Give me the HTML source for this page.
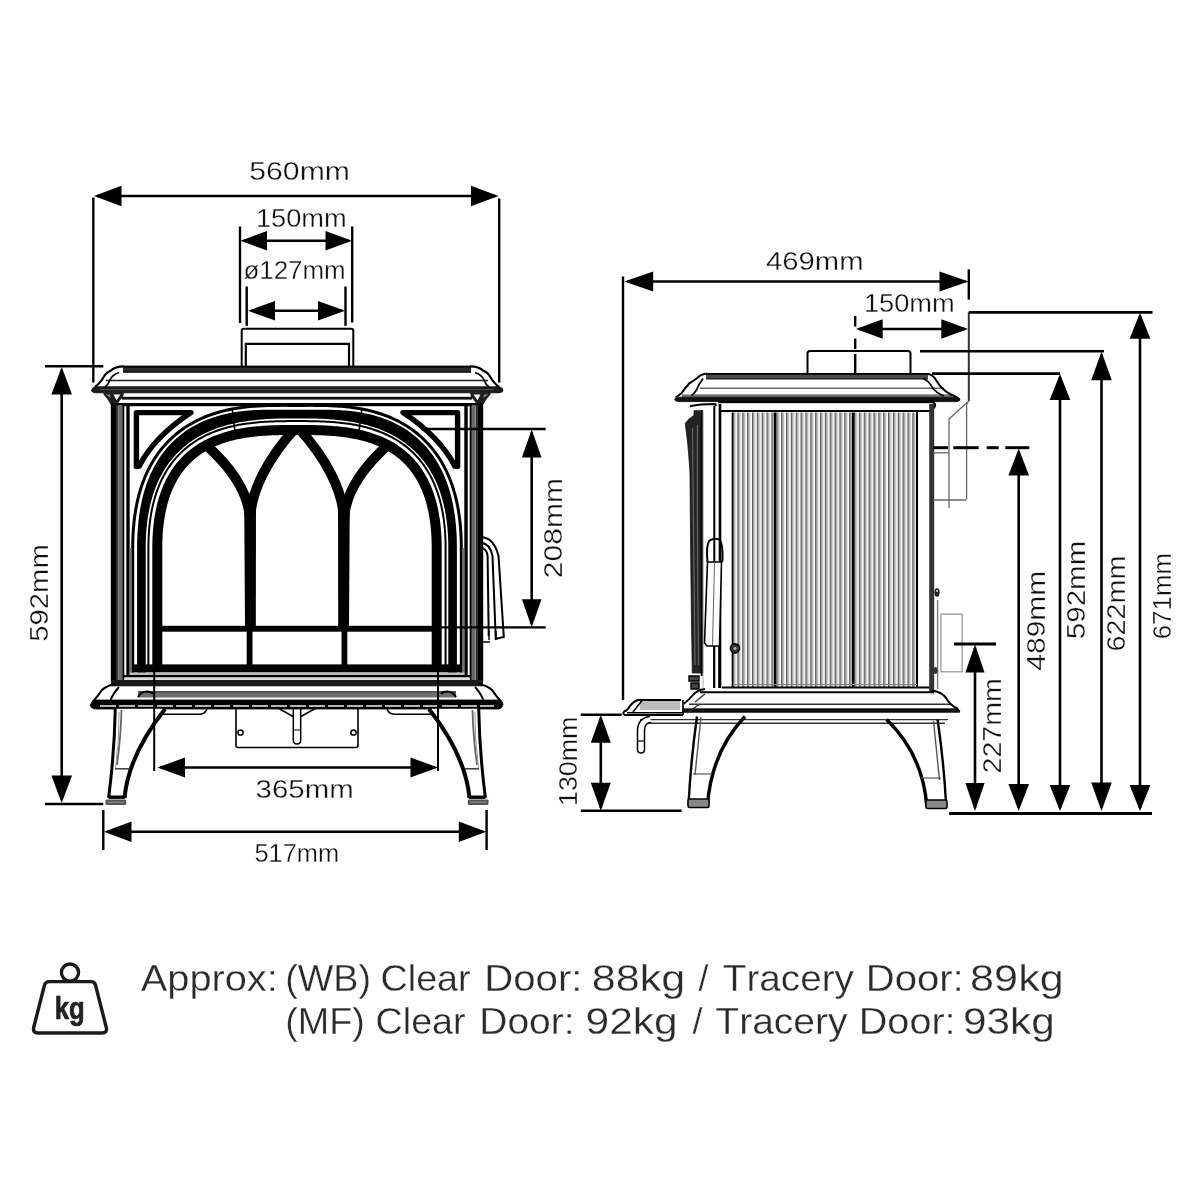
<!DOCTYPE html>
<html><head><meta charset="utf-8"><title>Stove dimensions</title>
<style>
html,body{margin:0;padding:0;background:#fff;}
body{width:1200px;height:1200px;overflow:hidden;}
svg{display:block;will-change:transform;}
svg text{font-family:"Liberation Sans", sans-serif;font-kerning:none;font-variant-ligatures:none;stroke:#fff;stroke-width:0.3px;}
</style></head>
<body>
<svg width="1200" height="1200" viewBox="0 0 1200 1200">
<rect width="1200" height="1200" fill="#fff"/>
<path d="M241.7,366 L241.7,331 Q241.7,328.8 244,328.8 L351,328.8 Q353.3,328.8 353.3,331 L353.3,366" stroke="#000" stroke-width="2" fill="none" />
<path d="M245.8,366 L245.8,343.8 L349,343.8 L349,366" stroke="#000" stroke-width="2.2" fill="none" />
<rect x="123" y="365.8" width="348" height="6.9" fill="#2a2a2a" stroke="none" stroke-width="0" />
<line x1="123" y1="366.6" x2="471" y2="366.6" stroke="#000" stroke-width="1.6" />
<line x1="123" y1="371.8" x2="471" y2="371.8" stroke="#111" stroke-width="1.2" />
<line x1="106" y1="380.6" x2="488" y2="380.6" stroke="#222" stroke-width="1.5" />
<path d="M95,386.8 L499,386.8 Q503.5,388 503,390.8 Q502,392.8 498,392.8 L96,392.8 Q91.5,392.5 91.5,390.5 Q92,387.5 95,386.8 Z" stroke="#000" stroke-width="0.8" fill="#1c1c1c" />
<line x1="100" y1="389.6" x2="494" y2="389.6" stroke="#555" stroke-width="0.9" />
<path d="M124,366.3 Q115,366.3 111,370.5 Q106,372.5 104,376.5 Q100,383.5 95,386.8" stroke="#000" stroke-width="2.2" fill="none" />
<path d="M119,372.5 Q112,375 110,380 Q108,385 105,387" stroke="#000" stroke-width="1.8" fill="none" />
<path d="M103.5,392.8 L124,392.8 L123,397 Q119,401 117,405 L111,405 Q108,399 103.5,394.5 Z" fill="#1e1e1e"/>
<path d="M113.5,394.6 L120.5,394.6 L116.5,400.2 Z" fill="#fff"/>
<path d="M106,394.6 L110,394.6 L110.5,398 Z" fill="#888"/>
<path d="M470,366.3 Q479,366.3 483,370.5 Q488,372.5 490,376.5 Q494,383.5 499,386.8" stroke="#000" stroke-width="2.2" fill="none" />
<path d="M475,372.5 Q482,375 484,380 Q486,385 489,387" stroke="#000" stroke-width="1.8" fill="none" />
<path d="M490.5,392.8 L470,392.8 L471,397 Q475,401 477,405 L483,405 Q486,399 490.5,394.5 Z" fill="#1e1e1e"/>
<path d="M480.5,394.6 L473.5,394.6 L477.5,400.2 Z" fill="#fff"/>
<path d="M488,394.6 L484,394.6 L483.5,398 Z" fill="#888"/>
<rect x="122" y="396.8" width="350" height="2.8" fill="#111" stroke="none" stroke-width="0" />
<rect x="111" y="403" width="372" height="3.2" fill="#000" stroke="none" stroke-width="0" />
<rect x="110.8" y="404" width="5.2" height="278" fill="#000" stroke="none" stroke-width="0" />
<rect x="116" y="405" width="2.3" height="276" fill="#333" stroke="none" stroke-width="0" />
<rect x="118.3" y="405" width="4" height="276" fill="#6a6a6a" stroke="none" stroke-width="0" />
<rect x="122.3" y="405" width="2" height="276" fill="#000" stroke="none" stroke-width="0" />
<rect x="126.3" y="405" width="3.4" height="271" fill="#000" stroke="none" stroke-width="0" />
<rect x="478" y="404" width="5.2" height="278" fill="#000" stroke="none" stroke-width="0" />
<rect x="475.7" y="405" width="2.3" height="276" fill="#333" stroke="none" stroke-width="0" />
<rect x="471.7" y="405" width="4" height="276" fill="#6a6a6a" stroke="none" stroke-width="0" />
<rect x="469.7" y="405" width="2" height="276" fill="#000" stroke="none" stroke-width="0" />
<rect x="464.3" y="405" width="3.4" height="271" fill="#000" stroke="none" stroke-width="0" />
<path d="M136.4,466.6 L136.4,412.6 L191,412.6 Q154,437 139.2,466.2 Z" stroke="#000" stroke-width="5.4" fill="none" stroke-linejoin="round"/>
<path d="M457.6,466.6 L457.6,412.6 L403,412.6 Q440,437 454.8,466.2 Z" stroke="#000" stroke-width="5.4" fill="none" stroke-linejoin="round"/>
<path d="M132.7,674 L132.7,547.76 L132.73,543.75 L132.83,539.57 L132.99,535.46 L133.22,531.42 L133.51,527.44 L133.87,523.53 L134.29,519.68 L134.78,515.9 L135.33,512.17 L135.95,508.51 L136.63,504.91 L137.38,501.36 L138.19,497.88 L139.08,494.46 L140.03,491.09 L141.05,487.78 L142.13,484.53 L143.29,481.34 L144.51,478.22 L145.8,475.15 L147.16,472.14 L148.58,469.19 L150.08,466.31 L151.63,463.49 L153.26,460.74 L154.95,458.05 L156.7,455.44 L158.51,452.89 L160.38,450.41 L162.3,448.01 L164.29,445.67 L166.32,443.42 L168.41,441.23 L170.54,439.13 L172.71,437.1 L174.93,435.14 L177.18,433.27 L179.47,431.47 L181.79,429.74 L184.14,428.09 L186.52,426.52 L188.92,425.02 L191.34,423.59 L193.78,422.23 L196.23,420.95 L198.69,419.73 L201.17,418.58 L203.65,417.49 L206.14,416.47 L208.64,415.51 L211.13,414.61 L213.63,413.76 L216.12,412.97 L218.62,412.23 L221.11,411.55 L223.59,410.91 L226.07,410.32 L228.54,409.78 L231,409.27 L233.46,408.81 L235.9,408.39 L238.33,408 L240.75,407.65 L243.16,407.34 L245.55,407.05 L247.93,406.79 L250.3,406.57 L252.65,406.36 L254.98,406.18 L257.29,406.03 L259.59,405.89 L261.87,405.78 L264.13,405.68 L266.37,405.6 L268.59,405.54 L270.79,405.48 L272.96,405.44 L275.11,405.41 L277.24,405.39 L279.35,405.38 L281.42,405.37 L283.48,405.37 L285.5,405.37 L287.49,405.37 L289.46,405.38 L291.39,405.39 L293.29,405.39 L295.16,405.4 L297,405.4 L298.84,405.4 L300.71,405.39 L302.61,405.39 L304.54,405.38 L306.51,405.37 L308.5,405.37 L310.52,405.37 L312.58,405.37 L314.65,405.38 L316.76,405.39 L318.89,405.41 L321.04,405.44 L323.21,405.48 L325.41,405.54 L327.63,405.6 L329.87,405.68 L332.13,405.78 L334.41,405.89 L336.71,406.03 L339.02,406.18 L341.35,406.36 L343.7,406.57 L346.07,406.79 L348.45,407.05 L350.84,407.34 L353.25,407.65 L355.67,408 L358.1,408.39 L360.54,408.81 L363,409.27 L365.46,409.78 L367.93,410.32 L370.41,410.91 L372.89,411.55 L375.38,412.23 L377.88,412.97 L380.37,413.76 L382.87,414.61 L385.36,415.51 L387.86,416.47 L390.35,417.49 L392.83,418.58 L395.31,419.73 L397.77,420.95 L400.22,422.23 L402.66,423.59 L405.08,425.02 L407.48,426.52 L409.86,428.09 L412.21,429.74 L414.53,431.47 L416.82,433.27 L419.07,435.14 L421.29,437.1 L423.46,439.13 L425.59,441.23 L427.68,443.42 L429.71,445.67 L431.7,448.01 L433.62,450.41 L435.49,452.89 L437.3,455.44 L439.05,458.05 L440.74,460.74 L442.37,463.49 L443.92,466.31 L445.42,469.19 L446.84,472.14 L448.2,475.15 L449.49,478.22 L450.71,481.34 L451.87,484.53 L452.95,487.78 L453.97,491.09 L454.92,494.46 L455.81,497.88 L456.62,501.36 L457.37,504.91 L458.05,508.51 L458.67,512.17 L459.22,515.9 L459.71,519.68 L460.13,523.53 L460.49,527.44 L460.78,531.42 L461.01,535.46 L461.17,539.57 L461.27,543.75 L461.3,547.76 L461.3,674" stroke="#000" stroke-width="3" fill="none" />
<rect x="129.7" y="548" width="2" height="128" fill="#777"/>
<rect x="462.3" y="548" width="2" height="128" fill="#777"/>
<path d="M145.7,674 L145.7,547.87 L145.73,543.96 L145.83,540 L146,536.12 L146.23,532.31 L146.52,528.57 L146.88,524.91 L147.31,521.32 L147.79,517.79 L148.34,514.34 L148.95,510.96 L149.63,507.65 L150.36,504.41 L151.16,501.23 L152.02,498.12 L152.94,495.08 L153.91,492.11 L154.95,489.2 L156.04,486.36 L157.19,483.58 L158.4,480.87 L159.66,478.23 L160.98,475.65 L162.36,473.14 L163.78,470.7 L165.26,468.32 L166.79,466 L168.36,463.76 L169.98,461.58 L171.65,459.46 L173.37,457.41 L175.12,455.43 L176.92,453.51 L178.75,451.66 L180.62,449.88 L182.52,448.16 L184.46,446.5 L186.43,444.9 L188.42,443.37 L190.45,441.9 L192.49,440.49 L194.56,439.14 L196.66,437.85 L198.77,436.62 L200.9,435.44 L203.04,434.31 L205.2,433.24 L207.38,432.22 L209.56,431.25 L211.76,430.33 L213.96,429.45 L216.18,428.62 L218.4,427.84 L220.62,427.1 L222.86,426.4 L225.09,425.74 L227.33,425.12 L229.57,424.53 L231.81,423.98 L234.05,423.47 L236.29,422.99 L238.53,422.54 L240.77,422.12 L243,421.74 L245.23,421.38 L247.45,421.04 L249.67,420.74 L251.88,420.46 L254.08,420.2 L256.28,419.97 L258.46,419.75 L260.64,419.56 L262.8,419.39 L264.96,419.23 L267.09,419.09 L269.22,418.97 L271.33,418.86 L273.43,418.77 L275.51,418.69 L277.57,418.62 L279.61,418.57 L281.63,418.52 L283.64,418.49 L285.62,418.46 L287.58,418.44 L289.51,418.42 L291.42,418.41 L293.31,418.4 L295.17,418.4 L297,418.4 L298.83,418.4 L300.69,418.4 L302.58,418.41 L304.49,418.42 L306.42,418.44 L308.38,418.46 L310.36,418.49 L312.37,418.52 L314.39,418.57 L316.43,418.62 L318.49,418.69 L320.57,418.77 L322.67,418.86 L324.78,418.97 L326.91,419.09 L329.04,419.23 L331.2,419.39 L333.36,419.56 L335.54,419.75 L337.72,419.97 L339.92,420.2 L342.12,420.46 L344.33,420.74 L346.55,421.04 L348.77,421.38 L351,421.74 L353.23,422.12 L355.47,422.54 L357.71,422.99 L359.95,423.47 L362.19,423.98 L364.43,424.53 L366.67,425.12 L368.91,425.74 L371.14,426.4 L373.38,427.1 L375.6,427.84 L377.82,428.62 L380.04,429.45 L382.24,430.33 L384.44,431.25 L386.62,432.22 L388.8,433.24 L390.96,434.31 L393.1,435.44 L395.23,436.62 L397.34,437.85 L399.44,439.14 L401.51,440.49 L403.55,441.9 L405.58,443.37 L407.57,444.9 L409.54,446.5 L411.48,448.16 L413.38,449.88 L415.25,451.66 L417.08,453.51 L418.88,455.43 L420.63,457.41 L422.35,459.46 L424.02,461.58 L425.64,463.76 L427.21,466 L428.74,468.32 L430.22,470.7 L431.64,473.14 L433.02,475.65 L434.34,478.23 L435.6,480.87 L436.81,483.58 L437.96,486.36 L439.05,489.2 L440.09,492.11 L441.06,495.08 L441.98,498.12 L442.84,501.23 L443.64,504.41 L444.37,507.65 L445.05,510.96 L445.66,514.34 L446.21,517.79 L446.69,521.32 L447.12,524.91 L447.48,528.57 L447.77,532.31 L448,536.12 L448.17,540 L448.27,543.96 L448.3,547.87 L448.3,674 L456.9,674 L456.9,547.8 L456.87,543.82 L456.78,539.72 L456.63,535.68 L456.41,531.72 L456.14,527.82 L455.81,523.99 L455.41,520.22 L454.96,516.52 L454.44,512.88 L453.86,509.3 L453.22,505.78 L452.52,502.33 L451.75,498.93 L450.93,495.59 L450.04,492.31 L449.08,489.08 L448.06,485.92 L446.98,482.81 L445.83,479.76 L444.62,476.78 L443.34,473.85 L441.99,470.98 L440.59,468.17 L439.11,465.42 L437.58,462.74 L435.98,460.12 L434.32,457.57 L432.6,455.08 L430.82,452.66 L428.98,450.31 L427.09,448.04 L425.14,445.83 L423.15,443.7 L421.11,441.64 L419.02,439.65 L416.89,437.74 L414.72,435.91 L412.51,434.15 L410.27,432.46 L408,430.85 L405.7,429.32 L403.37,427.85 L401.02,426.46 L398.66,425.14 L396.27,423.89 L393.87,422.71 L391.46,421.59 L389.04,420.54 L386.61,419.55 L384.17,418.63 L381.73,417.77 L379.29,416.96 L376.85,416.21 L374.4,415.51 L371.96,414.86 L369.53,414.27 L367.09,413.72 L364.67,413.22 L362.25,412.76 L359.84,412.34 L357.44,411.96 L355.04,411.62 L352.66,411.31 L350.29,411.04 L347.94,410.8 L345.6,410.59 L343.27,410.4 L340.95,410.24 L338.65,410.1 L336.37,409.99 L334.1,409.9 L331.85,409.82 L329.62,409.76 L327.41,409.71 L325.22,409.68 L323.04,409.66 L320.89,409.65 L318.76,409.65 L316.65,409.66 L314.57,409.67 L312.51,409.68 L310.47,409.7 L308.46,409.72 L306.48,409.74 L304.52,409.76 L302.6,409.78 L300.7,409.79 L298.84,409.8 L297,409.8 L295.16,409.8 L293.3,409.79 L291.4,409.78 L289.48,409.76 L287.52,409.74 L285.54,409.72 L283.53,409.7 L281.49,409.68 L279.43,409.67 L277.35,409.66 L275.24,409.65 L273.11,409.65 L270.96,409.66 L268.78,409.68 L266.59,409.71 L264.38,409.76 L262.15,409.82 L259.9,409.9 L257.63,409.99 L255.35,410.1 L253.05,410.24 L250.73,410.4 L248.4,410.59 L246.06,410.8 L243.71,411.04 L241.34,411.31 L238.96,411.62 L236.56,411.96 L234.16,412.34 L231.75,412.76 L229.33,413.22 L226.91,413.72 L224.47,414.27 L222.04,414.86 L219.6,415.51 L217.15,416.21 L214.71,416.96 L212.27,417.77 L209.83,418.63 L207.39,419.55 L204.96,420.54 L202.54,421.59 L200.13,422.71 L197.73,423.89 L195.34,425.14 L192.98,426.46 L190.63,427.85 L188.3,429.32 L186,430.85 L183.73,432.46 L181.49,434.15 L179.28,435.91 L177.11,437.74 L174.98,439.65 L172.89,441.64 L170.85,443.7 L168.86,445.83 L166.91,448.04 L165.02,450.31 L163.18,452.66 L161.4,455.08 L159.68,457.57 L158.02,460.12 L156.42,462.74 L154.89,465.42 L153.41,468.17 L152.01,470.98 L150.66,473.85 L149.38,476.78 L148.17,479.76 L147.02,482.81 L145.94,485.92 L144.92,489.08 L143.96,492.31 L143.07,495.59 L142.25,498.93 L141.48,502.33 L140.78,505.78 L140.14,509.3 L139.56,512.88 L139.04,516.52 L138.59,520.22 L138.19,523.99 L137.86,527.82 L137.59,531.72 L137.37,535.68 L137.22,539.72 L137.13,543.82 L137.1,547.8 L137.1,674 Z" fill="#000"/>
<path d="M148.4,668 L148.4,547.89 L148.43,544.01 L148.53,540.09 L148.69,536.25 L148.91,532.49 L149.2,528.8 L149.55,525.19 L149.96,521.65 L150.43,518.18 L150.96,514.78 L151.55,511.45 L152.2,508.19 L152.91,505.01 L153.68,501.88 L154.51,498.83 L155.39,495.84 L156.34,492.92 L157.33,490.07 L158.39,487.28 L159.5,484.56 L160.67,481.9 L161.89,479.31 L163.16,476.79 L164.49,474.33 L165.86,471.93 L167.29,469.6 L168.77,467.33 L170.29,465.13 L171.86,462.99 L173.47,460.92 L175.13,458.92 L176.83,456.97 L178.57,455.09 L180.35,453.28 L182.17,451.53 L184.02,449.84 L185.9,448.22 L187.82,446.65 L189.76,445.15 L191.73,443.71 L193.73,442.33 L195.75,441 L197.79,439.74 L199.86,438.53 L201.94,437.37 L204.04,436.27 L206.16,435.22 L208.29,434.22 L210.43,433.28 L212.59,432.38 L214.76,431.52 L216.93,430.72 L219.11,429.95 L221.31,429.23 L223.5,428.56 L225.7,427.92 L227.91,427.32 L230.12,426.76 L232.33,426.23 L234.54,425.74 L236.75,425.28 L238.96,424.85 L241.17,424.46 L243.38,424.09 L245.58,423.75 L247.78,423.44 L249.97,423.16 L252.16,422.9 L254.34,422.66 L256.51,422.44 L258.68,422.25 L260.83,422.08 L262.98,421.92 L265.11,421.78 L267.23,421.66 L269.34,421.56 L271.44,421.46 L273.52,421.39 L275.58,421.32 L277.63,421.26 L279.66,421.22 L281.68,421.18 L283.67,421.16 L285.64,421.14 L287.59,421.12 L289.52,421.11 L291.43,421.1 L293.31,421.1 L295.17,421.1 L297,421.1 L298.83,421.1 L300.69,421.1 L302.57,421.1 L304.48,421.11 L306.41,421.12 L308.36,421.14 L310.33,421.16 L312.32,421.18 L314.34,421.22 L316.37,421.26 L318.42,421.32 L320.48,421.39 L322.56,421.46 L324.66,421.56 L326.77,421.66 L328.89,421.78 L331.02,421.92 L333.17,422.08 L335.32,422.25 L337.49,422.44 L339.66,422.66 L341.84,422.9 L344.03,423.16 L346.22,423.44 L348.42,423.75 L350.62,424.09 L352.83,424.46 L355.04,424.85 L357.25,425.28 L359.46,425.74 L361.67,426.23 L363.88,426.76 L366.09,427.32 L368.3,427.92 L370.5,428.56 L372.69,429.23 L374.89,429.95 L377.07,430.72 L379.24,431.52 L381.41,432.38 L383.57,433.28 L385.71,434.22 L387.84,435.22 L389.96,436.27 L392.06,437.37 L394.14,438.53 L396.21,439.74 L398.25,441 L400.27,442.33 L402.27,443.71 L404.24,445.15 L406.18,446.65 L408.1,448.22 L409.98,449.84 L411.83,451.53 L413.65,453.28 L415.43,455.09 L417.17,456.97 L418.87,458.92 L420.53,460.92 L422.14,462.99 L423.71,465.13 L425.23,467.33 L426.71,469.6 L428.14,471.93 L429.51,474.33 L430.84,476.79 L432.11,479.31 L433.33,481.9 L434.5,484.56 L435.61,487.28 L436.67,490.07 L437.66,492.92 L438.61,495.84 L439.49,498.83 L440.32,501.88 L441.09,505.01 L441.8,508.19 L442.45,511.45 L443.04,514.78 L443.57,518.18 L444.04,521.65 L444.45,525.19 L444.8,528.8 L445.09,532.49 L445.31,536.25 L445.47,540.09 L445.57,544.01 L445.6,547.89 L445.6,668" stroke="#000" stroke-width="2" fill="none" />
<path d="M162.3,668 L162.3,548 L162.33,544.23 L162.42,540.55 L162.57,536.95 L162.78,533.44 L163.05,530 L163.37,526.65 L163.75,523.38 L164.18,520.19 L164.67,517.07 L165.21,514.03 L165.8,511.07 L166.44,508.18 L167.14,505.36 L167.88,502.62 L168.67,499.95 L169.51,497.36 L170.4,494.83 L171.33,492.37 L172.3,489.98 L173.32,487.66 L174.38,485.4 L175.49,483.21 L176.63,481.08 L177.82,479.02 L179.04,477.02 L180.31,475.08 L181.61,473.2 L182.94,471.38 L184.31,469.62 L185.72,467.92 L187.16,466.27 L188.64,464.68 L190.14,463.15 L191.68,461.67 L193.24,460.24 L194.84,458.86 L196.46,457.54 L198.11,456.26 L199.79,455.04 L201.49,453.86 L203.22,452.73 L204.97,451.64 L206.74,450.6 L208.54,449.61 L210.36,448.65 L212.19,447.74 L214.05,446.88 L215.92,446.05 L217.81,445.26 L219.72,444.51 L221.64,443.8 L223.58,443.12 L225.53,442.48 L227.49,441.87 L229.46,441.3 L231.45,440.76 L233.44,440.25 L235.45,439.78 L237.46,439.33 L239.48,438.91 L241.5,438.52 L243.53,438.16 L245.57,437.82 L247.61,437.5 L249.65,437.22 L251.69,436.95 L253.73,436.71 L255.78,436.48 L257.82,436.28 L259.86,436.1 L261.89,435.93 L263.93,435.79 L265.96,435.66 L267.98,435.54 L269.99,435.44 L272,435.35 L274,435.28 L275.99,435.21 L277.97,435.16 L279.94,435.12 L281.9,435.08 L283.84,435.05 L285.77,435.03 L287.68,435.02 L289.58,435.01 L291.46,435 L293.33,435 L295.17,435 L297,435 L298.83,435 L300.67,435 L302.54,435 L304.42,435.01 L306.32,435.02 L308.23,435.03 L310.16,435.05 L312.1,435.08 L314.06,435.12 L316.03,435.16 L318.01,435.21 L320,435.28 L322,435.35 L324.01,435.44 L326.02,435.54 L328.04,435.66 L330.07,435.79 L332.11,435.93 L334.14,436.1 L336.18,436.28 L338.22,436.48 L340.27,436.71 L342.31,436.95 L344.35,437.22 L346.39,437.5 L348.43,437.82 L350.47,438.16 L352.5,438.52 L354.52,438.91 L356.54,439.33 L358.55,439.78 L360.56,440.25 L362.55,440.76 L364.54,441.3 L366.51,441.87 L368.47,442.48 L370.42,443.12 L372.36,443.8 L374.28,444.51 L376.19,445.26 L378.08,446.05 L379.95,446.88 L381.81,447.74 L383.64,448.65 L385.46,449.61 L387.26,450.6 L389.03,451.64 L390.78,452.73 L392.51,453.86 L394.21,455.04 L395.89,456.26 L397.54,457.54 L399.16,458.86 L400.76,460.24 L402.32,461.67 L403.86,463.15 L405.36,464.68 L406.84,466.27 L408.28,467.92 L409.69,469.62 L411.06,471.38 L412.39,473.2 L413.69,475.08 L414.96,477.02 L416.18,479.02 L417.37,481.08 L418.51,483.21 L419.62,485.4 L420.68,487.66 L421.7,489.98 L422.67,492.37 L423.6,494.83 L424.49,497.36 L425.33,499.95 L426.12,502.62 L426.86,505.36 L427.56,508.18 L428.2,511.07 L428.79,514.03 L429.33,517.07 L429.82,520.19 L430.25,523.38 L430.63,526.65 L430.95,530 L431.22,533.44 L431.43,536.95 L431.58,540.55 L431.67,544.23 L431.7,548 L431.7,668 L441.7,668 L441.7,547.92 L441.67,544.07 L441.57,540.22 L441.42,536.45 L441.2,532.76 L440.92,529.14 L440.58,525.6 L440.17,522.13 L439.71,518.74 L439.2,515.42 L438.62,512.18 L437.98,509 L437.29,505.9 L436.54,502.86 L435.74,499.89 L434.88,497 L433.97,494.17 L433,491.41 L431.98,488.71 L430.91,486.08 L429.78,483.52 L428.61,481.02 L427.38,478.59 L426.11,476.22 L424.78,473.92 L423.41,471.68 L422,469.51 L420.54,467.4 L419.03,465.35 L417.48,463.36 L415.9,461.44 L414.27,459.58 L412.6,457.79 L410.9,456.05 L409.16,454.37 L407.39,452.76 L405.59,451.2 L403.76,449.71 L401.9,448.27 L400.01,446.89 L398.09,445.56 L396.15,444.29 L394.19,443.08 L392.21,441.92 L390.21,440.81 L388.19,439.75 L386.15,438.74 L384.1,437.77 L382.03,436.86 L379.95,435.99 L377.85,435.17 L375.75,434.39 L373.63,433.65 L371.51,432.95 L369.38,432.29 L367.24,431.67 L365.1,431.09 L362.95,430.54 L360.8,430.03 L358.64,429.55 L356.48,429.1 L354.33,428.69 L352.17,428.3 L350.01,427.94 L347.85,427.61 L345.7,427.31 L343.55,427.03 L341.4,426.77 L339.26,426.54 L337.12,426.33 L334.99,426.14 L332.87,425.96 L330.76,425.81 L328.65,425.68 L326.56,425.56 L324.48,425.45 L322.4,425.36 L320.35,425.28 L318.3,425.22 L316.27,425.16 L314.26,425.12 L312.26,425.08 L310.28,425.06 L308.32,425.04 L306.38,425.02 L304.46,425.01 L302.56,425 L300.68,425 L298.83,425 L297,425 L295.17,425 L293.32,425 L291.44,425 L289.54,425.01 L287.62,425.02 L285.68,425.04 L283.72,425.06 L281.74,425.08 L279.74,425.12 L277.73,425.16 L275.7,425.22 L273.65,425.28 L271.6,425.36 L269.52,425.45 L267.44,425.56 L265.35,425.68 L263.24,425.81 L261.13,425.96 L259.01,426.14 L256.88,426.33 L254.74,426.54 L252.6,426.77 L250.45,427.03 L248.3,427.31 L246.15,427.61 L243.99,427.94 L241.83,428.3 L239.67,428.69 L237.52,429.1 L235.36,429.55 L233.2,430.03 L231.05,430.54 L228.9,431.09 L226.76,431.67 L224.62,432.29 L222.49,432.95 L220.37,433.65 L218.25,434.39 L216.15,435.17 L214.05,435.99 L211.97,436.86 L209.9,437.77 L207.85,438.74 L205.81,439.75 L203.79,440.81 L201.79,441.92 L199.81,443.08 L197.85,444.29 L195.91,445.56 L193.99,446.89 L192.1,448.27 L190.24,449.71 L188.41,451.2 L186.61,452.76 L184.84,454.37 L183.1,456.05 L181.4,457.79 L179.73,459.58 L178.1,461.44 L176.52,463.36 L174.97,465.35 L173.46,467.4 L172,469.51 L170.59,471.68 L169.22,473.92 L167.89,476.22 L166.62,478.59 L165.39,481.02 L164.22,483.52 L163.09,486.08 L162.02,488.71 L161,491.41 L160.03,494.17 L159.12,497 L158.26,499.89 L157.46,502.86 L156.71,505.9 L156.02,509 L155.38,512.18 L154.8,515.42 L154.29,518.74 L153.83,522.13 L153.42,525.6 L153.08,529.14 L152.8,532.76 L152.58,536.45 L152.43,540.22 L152.33,544.07 L152.3,547.92 L152.3,668 Z" fill="#000"/>
<line x1="232.2" y1="409.5" x2="234.8" y2="430" stroke="#000" stroke-width="1.6" />
<line x1="361.8" y1="409.5" x2="359.2" y2="430" stroke="#000" stroke-width="1.6" />
<polygon points="244.2,500 256,500 255.8,627 245,627" fill="#000"/>
<rect x="246.7" y="626" width="5.8" height="42" fill="#000" stroke="none" stroke-width="0" />
<path d="M250,540 L250,522 C250,494 232,468 205,444" stroke="#000" stroke-width="10" fill="none" stroke-linecap="butt"/>
<path d="M250,540 L250,522 C250,490 270,456 295.5,428" stroke="#000" stroke-width="10" fill="none" stroke-linecap="butt"/>
<polygon points="349.8,500 338,500 338.2,627 349,627" fill="#000"/>
<rect x="341.5" y="626" width="5.8" height="42" fill="#000" stroke="none" stroke-width="0" />
<path d="M344,540 L344,522 C344,494 362,468 389,444" stroke="#000" stroke-width="10" fill="none" stroke-linecap="butt"/>
<path d="M344,540 L344,522 C344,490 324,456 298.5,428" stroke="#000" stroke-width="10" fill="none" stroke-linecap="butt"/>
<rect x="161" y="625.8" width="272" height="5.9" fill="#000" stroke="none" stroke-width="0" />
<rect x="133" y="664.4" width="328" height="8.1" fill="#000" stroke="none" stroke-width="0" />
<rect x="129.7" y="672.5" width="334.6" height="2.5" fill="#bbb" stroke="none" stroke-width="0" />
<rect x="124" y="675" width="346" height="2.5" fill="#000" stroke="none" stroke-width="0" />
<rect x="124.3" y="677.5" width="345.4" height="2.5" fill="#ddd" stroke="none" stroke-width="0" />
<rect x="111" y="680" width="372" height="6.3" fill="#1a1a1a" stroke="none" stroke-width="0" />
<path d="M481,537.3 Q494,537.5 498.5,556 L503.8,637 L495,639" stroke="#000" stroke-width="2" fill="none" />
<path d="M481,542.8 Q490.5,544 492.5,556 L495.8,640" stroke="#000" stroke-width="2" fill="none" />
<path d="M481,547.6 Q487,549 487.6,556 L488.7,636" stroke="#000" stroke-width="2" fill="none" />
<path d="M482,630 L482,642 L490,642 M489,631 L489,640 M496,631 L496,640" stroke="#000" stroke-width="1.4" fill="none" />
<rect x="138" y="691.3" width="318" height="6.2" fill="#6e6e6e" stroke="none" stroke-width="0" />
<line x1="138" y1="691.8" x2="456" y2="691.8" stroke="#333" stroke-width="1" />
<path d="M95,700 L499,700 Q503.5,701.5 503,704.5 Q502,709 498,709 L96,709 Q90,708.6 90.5,705 Q91.5,700.5 95,700 Z" stroke="#000" stroke-width="0.8" fill="#000" />
<line x1="100" y1="706" x2="494" y2="706" stroke="#eee" stroke-width="1.4" stroke-dasharray="16 3"/>
<path d="M116,683.5 Q106,686 102,690 Q98,696 93,701.5" stroke="#000" stroke-width="2.2" fill="none" />
<path d="M119,687 Q114,692 110.5,700" stroke="#000" stroke-width="1.8" fill="none" />
<path d="M138,697 Q141,691.5 147,691.5 Q151,691.5 153,694" stroke="#000" stroke-width="2" fill="none" />
<path d="M125,709 L125,714.2 L200,714.2 Q205,714 207,709" stroke="#000" stroke-width="1.6" fill="none" />
<path d="M478,683.5 Q488,686 492,690 Q496,696 501,701.5" stroke="#000" stroke-width="2.2" fill="none" />
<path d="M475,687 Q480,692 483.5,700" stroke="#000" stroke-width="1.8" fill="none" />
<path d="M456,697 Q453,691.5 447,691.5 Q443,691.5 441,694" stroke="#000" stroke-width="2" fill="none" />
<path d="M469,709 L469,714.2 L394,714.2 Q389,714 387,709" stroke="#000" stroke-width="1.6" fill="none" />
<path d="M236,708 L236,745.5 Q236,747.5 238,747.5 L356,747.5 Q358,747.5 358,745.5 L358,708" stroke="#000" stroke-width="1.6" fill="none" />
<circle cx="240.5" cy="732.5" r="2.6" fill="none" stroke="#000" stroke-width="1.5"/>
<circle cx="353.5" cy="732.5" r="2.6" fill="none" stroke="#000" stroke-width="1.5"/>
<path d="M293.3,709 L293.3,740 Q293.3,744 297,744 Q300.7,744 300.7,740 L300.7,709" stroke="#000" stroke-width="1.5" fill="none" />
<path d="M293.3,730 L300.7,730" stroke="#000" stroke-width="1" fill="none" />
<path d="M278,708 L293,716.5 M316,708 L301,716.5" stroke="#000" stroke-width="1.5" fill="none" />
<path d="M115.5,709 L108.5,797 L124.5,797 C128,760 150,728 165,709 Z" stroke="#fff" stroke-width="0.5" fill="#fff" />
<path d="M115.3,708.5 Q114.5,752 108.6,798" stroke="#000" stroke-width="3" fill="none" />
<path d="M121.5,710 Q121,735 117,765" stroke="#666" stroke-width="1.8" fill="none" />
<path d="M119,712 Q119.5,740 115.5,768" stroke="#999" stroke-width="1" fill="none" />
<path d="M165,709 C150,728 128,760 124.5,798" stroke="#000" stroke-width="4" fill="none" />
<line x1="115" y1="768.8" x2="129.5" y2="768.8" stroke="#444" stroke-width="1.6" />
<line x1="108.6" y1="797.2" x2="124.8" y2="797.2" stroke="#000" stroke-width="3.4" />
<rect x="105.5" y="799.5" width="20.7" height="5.4" fill="#555" stroke="none" stroke-width="0" rx="1"/>
<line x1="107.5" y1="802.2" x2="124.2" y2="802.2" stroke="#999" stroke-width="1" />
<path d="M478.5,709 L485.5,797 L469.5,797 C466,760 444,728 429,709 Z" stroke="#fff" stroke-width="0.5" fill="#fff" />
<path d="M478.7,708.5 Q479.5,752 485.4,798" stroke="#000" stroke-width="3" fill="none" />
<path d="M472.5,710 Q473,735 477,765" stroke="#666" stroke-width="1.8" fill="none" />
<path d="M475,712 Q474.5,740 478.5,768" stroke="#999" stroke-width="1" fill="none" />
<path d="M429,709 C444,728 466,760 469.5,798" stroke="#000" stroke-width="4" fill="none" />
<line x1="479" y1="768.8" x2="464.5" y2="768.8" stroke="#444" stroke-width="1.6" />
<line x1="485.4" y1="797.2" x2="469.2" y2="797.2" stroke="#000" stroke-width="3.4" />
<rect x="467.8" y="799.5" width="20.7" height="5.4" fill="#555" stroke="none" stroke-width="0" rx="1"/>
<line x1="469.8" y1="802.2" x2="486.5" y2="802.2" stroke="#999" stroke-width="1" />
<path d="M807.5,374 L807.5,353.5 Q807.5,351 810,351 L908,351 Q910.5,351 910.5,353.5 L910.5,374" stroke="#000" stroke-width="2" fill="none" />
<line x1="855.2" y1="316" x2="855.2" y2="326.5" stroke="#000" stroke-width="2.4" />
<line x1="855.2" y1="338.5" x2="855.2" y2="349" stroke="#000" stroke-width="2.4" />
<line x1="855.2" y1="354" x2="855.2" y2="374" stroke="#000" stroke-width="2.4" />
<rect x="706" y="373.2" width="222" height="6.2" fill="#4a4a4a" stroke="none" stroke-width="0" />
<line x1="706" y1="373.9" x2="928" y2="373.9" stroke="#000" stroke-width="1.6" />
<line x1="706" y1="378.8" x2="928" y2="378.8" stroke="#222" stroke-width="1" />
<line x1="700" y1="388.3" x2="944" y2="388.3" stroke="#666" stroke-width="1.4" />
<rect x="682" y="394.3" width="270" height="3" fill="#777" stroke="none" stroke-width="0" />
<path d="M679,397.2 L956,397.2 Q960.5,398 960,400 Q959,401.6 956,401.6 L679,401.6 Q674.5,401.3 674.6,399.2 Q675.5,397.4 679,397.2 Z" stroke="#000" stroke-width="0.8" fill="#111" />
<path d="M707,373.8 Q701,374 697.7,377.7 Q693,381 689,383.7 Q685,388 681.7,393 Q678,396 675.5,397.5" stroke="#000" stroke-width="2" fill="none" />
<path d="M703,378.5 Q699,384 696.3,390.3 Q694,394 691.5,395.5" stroke="#000" stroke-width="1.8" fill="none" />
<path d="M927,373.8 Q932,374 936,380 Q939,385 942,388 Q946,392 950,394 Q956,396.5 959,399" stroke="#000" stroke-width="2" fill="none" />
<path d="M923,378.5 Q929,381 932,387 Q936,393 944,396" stroke="#000" stroke-width="1.6" fill="none" />
<rect x="718" y="400.8" width="216" height="2.4" fill="#000" stroke="none" stroke-width="0" />
<path d="M932,402 Q936,403 935,406 L932.5,410" stroke="#000" stroke-width="2" fill="none" />
<line x1="720" y1="411" x2="931" y2="411" stroke="#000" stroke-width="2" />
<path d="M694,410.7 L702.7,410.7 L702.7,673 L692.3,673 Q690.5,560 690,473 Q688.5,450 687.3,440 Q686,430 685.3,423.3 Q689,418 694,415.5 Z" stroke="#111" stroke-width="0.8" fill="#242424" />
<path d="M692.5,428 Q693,500 695,665 M697.5,425 Q697,520 698.5,665" stroke="#6a6a6a" stroke-width="1.1" fill="none" />
<line x1="701.7" y1="410" x2="701.7" y2="676" stroke="#000" stroke-width="2" />
<path d="M690,406.3 Q700,404 715.3,404 L716,406" stroke="#000" stroke-width="2.2" fill="none" />
<line x1="703" y1="412" x2="703" y2="688" stroke="#999" stroke-width="0.8" />
<line x1="714.3" y1="406" x2="714.3" y2="688" stroke="#000" stroke-width="2" />
<line x1="720" y1="404" x2="720" y2="688" stroke="#000" stroke-width="2.6" />
<path d="M689,676 L699,676 L699,681 L689,681 Z M691,683 L699,683 L699,689 L691,689 Z" stroke="#000" stroke-width="1.4" fill="#444" />
<path d="M707.5,562 Q706,547 709,541 Q714,537.5 719,539.5 Q723,542 722.5,560 L722,562" stroke="#000" stroke-width="2" fill="none" />
<path d="M707.5,562 L704.5,643 L707,646 L719.5,646 L721.5,562 Z" stroke="#000" stroke-width="1.6" fill="#fff" />
<line x1="714.5" y1="562" x2="712.5" y2="645" stroke="#666" stroke-width="1" />
<path d="M714,646 L714,688 M719,646 L719,688" stroke="#000" stroke-width="1.6" fill="none" />
<defs><pattern id="flute" patternUnits="userSpaceOnUse" x="732.5" y="0" width="4.86" height="10"><rect width="4.86" height="10" fill="#e6e6e6"/><rect x="0" width="1.5" height="10" fill="#5a5a5a"/><rect x="1.5" width="1.0" height="10" fill="#a8a8a8"/><rect x="3.7" width="1.16" height="10" fill="#fafafa"/></pattern></defs>
<rect x="732.5" y="412.5" width="184.5" height="274.5" fill="url(#flute)" stroke="none" stroke-width="0" />
<line x1="732.5" y1="412.5" x2="732.5" y2="687" stroke="#000" stroke-width="1.6" />
<line x1="775" y1="412.5" x2="775" y2="687" stroke="#000" stroke-width="2.2" />
<line x1="853" y1="412.5" x2="853" y2="687" stroke="#000" stroke-width="2.2" />
<line x1="917" y1="411.5" x2="917" y2="688" stroke="#000" stroke-width="2" />
<line x1="722" y1="687.5" x2="931" y2="687.5" stroke="#000" stroke-width="2.2" />
<line x1="733" y1="684.5" x2="917" y2="684.5" stroke="#888" stroke-width="1" />
<circle cx="735" cy="648.3" r="4.6" fill="#333" stroke="#000" stroke-width="1.5"/>
<circle cx="735" cy="648.3" r="1.6" fill="#aaa"/>
<rect x="929.2" y="404" width="5" height="288" fill="#333" stroke="none" stroke-width="0" />
<line x1="968.8" y1="312.4" x2="968.8" y2="401" stroke="#333" stroke-width="2" />
<path d="M968.8,401 L966.6,404 L966.6,499.5" stroke="#666" stroke-width="1.3" fill="none" />
<line x1="933" y1="500" x2="966.2" y2="500" stroke="#666" stroke-width="1.3" />
<path d="M967,402.5 L949,419 L949,508" stroke="#666" stroke-width="1.3" fill="none" />
<line x1="933" y1="452.8" x2="949" y2="452.8" stroke="#666" stroke-width="1.3" />
<rect x="940.9" y="614.2" width="21.2" height="57.6" fill="none" stroke="#999" stroke-width="1.3" />
<line x1="937.6" y1="600" x2="937.6" y2="689" stroke="#777" stroke-width="1.4" />
<ellipse cx="937" cy="592.5" rx="2.6" ry="4.2" fill="#222"/>
<circle cx="937" cy="591" r="1" fill="#ddd"/>
<ellipse cx="935.5" cy="670.5" rx="2" ry="3.5" fill="#333"/>
<line x1="700" y1="692.3" x2="934" y2="692.3" stroke="#000" stroke-width="2" />
<line x1="689" y1="704.2" x2="951" y2="704.2" stroke="#333" stroke-width="1.4" />
<path d="M683,708.8 L958,708.8 Q960.5,710.5 959.5,712.3 L683,712.3 Z" stroke="#000" stroke-width="0.8" fill="#111" />
<line x1="640" y1="719.6" x2="948" y2="719.6" stroke="#333" stroke-width="1.4" />
<line x1="643" y1="723.3" x2="945" y2="723.3" stroke="#333" stroke-width="1.4" />
<path d="M705,689 Q697,690 693,695 Q689,700 683.5,704" stroke="#000" stroke-width="2" fill="none" />
<path d="M932,690.5 Q942,692 946,698 Q950,705 958,709" stroke="#000" stroke-width="2" fill="none" />
<path d="M699,704.5 L687,713 M705,694 L695,702" stroke="#333" stroke-width="1.4" fill="none" />
<path d="M681,700 L638,700 Q633,701.5 630,706 Q628,710 624.5,711.3 Q622,713.5 625,715 L683,715" stroke="#000" stroke-width="2" fill="none" />
<rect x="640" y="701" width="40" height="9" fill="#bdbdbd" stroke="none" stroke-width="0" />
<line x1="642" y1="700.4" x2="633" y2="712" stroke="#000" stroke-width="1.6" />
<line x1="627" y1="712.8" x2="683" y2="712.8" stroke="#000" stroke-width="1.6" />
<line x1="683" y1="700" x2="683" y2="715" stroke="#000" stroke-width="1.6" />
<path d="M650,716.5 Q638,718 637.5,730 L637.5,749.5 Q637.5,753 641,753 Q644.5,753 644.5,749.5 L644.5,730 Q645,722.5 651,722.5" stroke="#000" stroke-width="1.5" fill="#fff" />
<line x1="637.5" y1="741" x2="644.5" y2="741" stroke="#000" stroke-width="1.2" />
<path d="M697,716.5 Q690.75,760.75 688.5,805" stroke="#000" stroke-width="2.4" fill="none" />
<path d="M745,716.5 Q711.5,751.5 707.5,805" stroke="#000" stroke-width="3.4" fill="none" />
<rect x="688" y="799" width="21" height="8.5" fill="#888" stroke="#000" stroke-width="1.5" rx="1.5"/>
<line x1="701" y1="717" x2="695" y2="775" stroke="#555" stroke-width="1.4" />
<line x1="693" y1="774" x2="712" y2="774" stroke="#555" stroke-width="1.2" />
<path d="M937.6,719.5 Q943.9,762.75 946.2,806" stroke="#000" stroke-width="2.4" fill="none" />
<path d="M886.6,719.5 Q922.8,754.5 926.8,806" stroke="#000" stroke-width="3.4" fill="none" />
<rect x="926" y="800" width="21" height="8.5" fill="#888" stroke="#000" stroke-width="1.5" rx="1.5"/>
<line x1="933.5" y1="721" x2="939.5" y2="780" stroke="#555" stroke-width="1.4" />
<line x1="921" y1="778" x2="941" y2="778" stroke="#555" stroke-width="1.2" />
<circle cx="70" cy="972.6" r="8.6" fill="none" stroke="#1a1a1a" stroke-width="3.3"/>
<path d="M49,981.6 L91,981.6 Q94.5,981.6 95.5,985 L106.3,1027.5 Q107.5,1033 102,1033 L38,1033 Q32.5,1033 33.7,1027.5 L44.5,985 Q45.5,981.6 49,981.6 Z" stroke="#1a1a1a" stroke-width="3.4" fill="none" />
<text x="54.7" y="1019" font-size="31" font-weight="bold" fill="#222" textLength="30.02" lengthAdjust="spacingAndGlyphs" style="stroke:#222;stroke-width:0.7px">kg</text>
<text x="140.72" y="990.6" font-size="36" font-weight="normal" fill="#2b2b2b" textLength="137.11" lengthAdjust="spacingAndGlyphs">Approx:</text>
<text x="285.16" y="990.6" font-size="36" font-weight="normal" fill="#2b2b2b" textLength="85.93" lengthAdjust="spacingAndGlyphs">(WB)</text>
<text x="380.59" y="990.6" font-size="36" font-weight="normal" fill="#2b2b2b" textLength="90.04" lengthAdjust="spacingAndGlyphs">Clear</text>
<text x="484.21" y="990.6" font-size="36" font-weight="normal" fill="#2b2b2b" textLength="98.21" lengthAdjust="spacingAndGlyphs">Door:</text>
<text x="591.88" y="990.6" font-size="36" font-weight="normal" fill="#2b2b2b" textLength="93.4" lengthAdjust="spacingAndGlyphs">88kg</text>
<text x="698.5" y="990.6" font-size="36" font-weight="normal" fill="#2b2b2b" textLength="10" lengthAdjust="spacingAndGlyphs">/</text>
<text x="722.88" y="990.6" font-size="36" font-weight="normal" fill="#2b2b2b" textLength="130.94" lengthAdjust="spacingAndGlyphs">Tracery</text>
<text x="865.71" y="990.6" font-size="36" font-weight="normal" fill="#2b2b2b" textLength="97.94" lengthAdjust="spacingAndGlyphs">Door:</text>
<text x="970.12" y="990.6" font-size="36" font-weight="normal" fill="#2b2b2b" textLength="93.66" lengthAdjust="spacingAndGlyphs">89kg</text>
<text x="285.16" y="1033.8" font-size="36" font-weight="normal" fill="#2b2b2b" textLength="79.68" lengthAdjust="spacingAndGlyphs">(MF)</text>
<text x="375.59" y="1033.8" font-size="36" font-weight="normal" fill="#2b2b2b" textLength="90.04" lengthAdjust="spacingAndGlyphs">Clear</text>
<text x="479.3" y="1033.8" font-size="36" font-weight="normal" fill="#2b2b2b" textLength="95.25" lengthAdjust="spacingAndGlyphs">Door:</text>
<text x="585.51" y="1033.8" font-size="36" font-weight="normal" fill="#2b2b2b" textLength="92.24" lengthAdjust="spacingAndGlyphs">92kg</text>
<text x="692.5" y="1033.8" font-size="36" font-weight="normal" fill="#2b2b2b" textLength="10" lengthAdjust="spacingAndGlyphs">/</text>
<text x="715.37" y="1033.8" font-size="36" font-weight="normal" fill="#2b2b2b" textLength="132.2" lengthAdjust="spacingAndGlyphs">Tracery</text>
<text x="858.75" y="1033.8" font-size="36" font-weight="normal" fill="#2b2b2b" textLength="96.87" lengthAdjust="spacingAndGlyphs">Door:</text>
<text x="963.02" y="1033.8" font-size="36" font-weight="normal" fill="#2b2b2b" textLength="91.71" lengthAdjust="spacingAndGlyphs">93kg</text>
<line x1="97" y1="196" x2="495.5" y2="196" stroke="#000" stroke-width="2.6" />
<polygon points="94,196 121.5,185.7 121.5,206.3" fill="#000"/>
<polygon points="498.5,196 471,185.7 471,206.3" fill="#000"/>
<line x1="93.3" y1="197.5" x2="93.3" y2="382.5" stroke="#000" stroke-width="2.4" />
<line x1="499.2" y1="198.5" x2="499.2" y2="382.5" stroke="#000" stroke-width="2.4" />
<text x="249.29" y="179.5" font-size="26" font-weight="normal" fill="#111" textLength="100.7" lengthAdjust="spacingAndGlyphs">560mm</text>
<line x1="243.5" y1="240.8" x2="349" y2="240.8" stroke="#000" stroke-width="2.6" />
<polygon points="240.5,240.8 267,231 267,250.6" fill="#000"/>
<polygon points="352,240.8 325.5,231 325.5,250.6" fill="#000"/>
<line x1="240" y1="226.5" x2="240" y2="323" stroke="#000" stroke-width="2.4" />
<line x1="352.2" y1="226.5" x2="352.2" y2="322.5" stroke="#000" stroke-width="2.4" />
<text x="255.92" y="226.7" font-size="26" font-weight="normal" fill="#111" textLength="90.87" lengthAdjust="spacingAndGlyphs">150mm</text>
<line x1="251" y1="310.8" x2="342" y2="310.8" stroke="#000" stroke-width="2.6" />
<polygon points="248,310.8 275,301 275,320.6" fill="#000"/>
<polygon points="345,310.8 318,301 318,320.6" fill="#000"/>
<line x1="246.7" y1="286.5" x2="246.7" y2="325.8" stroke="#000" stroke-width="2.4" />
<line x1="345.5" y1="286.5" x2="345.5" y2="325.8" stroke="#000" stroke-width="2.4" />
<text x="243.44" y="279" font-size="26" font-weight="normal" fill="#111" textLength="102.27" lengthAdjust="spacingAndGlyphs">ø127mm</text>
<line x1="61.7" y1="370" x2="61.7" y2="800" stroke="#000" stroke-width="2.6" />
<polygon points="61.7,367 51.4,394.5 72,394.5" fill="#000"/>
<polygon points="61.7,803 51.4,775.5 72,775.5" fill="#000"/>
<line x1="45" y1="366.3" x2="103.3" y2="366.3" stroke="#000" stroke-width="2.6" />
<line x1="45" y1="804" x2="103.3" y2="804" stroke="#000" stroke-width="2.6" />
<text transform="translate(48,641.87) rotate(-90)" x="0" y="0" font-size="26" font-weight="normal" fill="#111" textLength="97.81" lengthAdjust="spacingAndGlyphs">592mm</text>
<line x1="531.7" y1="432.6" x2="531.7" y2="624.2" stroke="#000" stroke-width="2.6" />
<polygon points="531.7,429.6 521.9,457.6 541.5,457.6" fill="#000"/>
<polygon points="531.7,627.2 521.9,599.2 541.5,599.2" fill="#000"/>
<line x1="421" y1="429" x2="545.7" y2="429" stroke="#000" stroke-width="2.4" />
<line x1="432" y1="627.4" x2="545.7" y2="627.4" stroke="#000" stroke-width="2.4" />
<text transform="translate(562,578.21) rotate(-90)" x="0" y="0" font-size="26" font-weight="normal" fill="#111" textLength="100.19" lengthAdjust="spacingAndGlyphs">208mm</text>
<line x1="160.5" y1="767.5" x2="435" y2="767.5" stroke="#000" stroke-width="2.6" />
<polygon points="157.5,767.5 185,757.5 185,777.5" fill="#000"/>
<polygon points="438,767.5 410.5,757.5 410.5,777.5" fill="#000"/>
<line x1="154.2" y1="663" x2="154.2" y2="771" stroke="#000" stroke-width="2" />
<line x1="438" y1="660" x2="438" y2="771" stroke="#000" stroke-width="2" />
<text x="255.58" y="797.5" font-size="26" font-weight="normal" fill="#111" textLength="98.06" lengthAdjust="spacingAndGlyphs">365mm</text>
<line x1="107" y1="831.8" x2="483.3" y2="831.8" stroke="#000" stroke-width="2.6" />
<polygon points="104,831.8 131.5,821.5 131.5,842.1" fill="#000"/>
<polygon points="486.3,831.8 458.8,821.5 458.8,842.1" fill="#000"/>
<line x1="103.3" y1="810" x2="103.3" y2="850" stroke="#000" stroke-width="2.4" />
<line x1="486.6" y1="810" x2="486.6" y2="850" stroke="#000" stroke-width="2.4" />
<text x="254.48" y="862" font-size="26" font-weight="normal" fill="#111" textLength="84.69" lengthAdjust="spacingAndGlyphs">517mm</text>
<line x1="627.2" y1="281.5" x2="965.5" y2="281.5" stroke="#000" stroke-width="2.6" />
<polygon points="624.2,281.5 653.2,271.5 653.2,291.5" fill="#000"/>
<polygon points="968.5,281.5 939.5,271.5 939.5,291.5" fill="#000"/>
<line x1="623" y1="276.5" x2="623" y2="700" stroke="#000" stroke-width="2.4" />
<line x1="968.8" y1="269.3" x2="968.8" y2="299.6" stroke="#000" stroke-width="2.4" />
<text x="766.03" y="270" font-size="26" font-weight="normal" fill="#111" textLength="97.5" lengthAdjust="spacingAndGlyphs">469mm</text>
<line x1="859" y1="329" x2="965" y2="329" stroke="#000" stroke-width="2.6" />
<polygon points="856,329 882.7,319.2 882.7,338.8" fill="#000"/>
<polygon points="968,329 941.3,319.2 941.3,338.8" fill="#000"/>
<text x="863.92" y="311.5" font-size="26" font-weight="normal" fill="#111" textLength="90.87" lengthAdjust="spacingAndGlyphs">150mm</text>
<line x1="600.8" y1="717.8" x2="600.8" y2="807.8" stroke="#000" stroke-width="2.6" />
<polygon points="600.8,714.8 590.8,742.8 610.8,742.8" fill="#000"/>
<polygon points="600.8,810.8 590.8,782.8 610.8,782.8" fill="#000"/>
<line x1="580.8" y1="714.7" x2="621.7" y2="714.7" stroke="#000" stroke-width="2.6" />
<line x1="580.8" y1="810.8" x2="681.7" y2="810.8" stroke="#000" stroke-width="2.6" />
<text transform="translate(576.5,806.04) rotate(-90)" x="0" y="0" font-size="26" font-weight="normal" fill="#111" textLength="89.51" lengthAdjust="spacingAndGlyphs">130mm</text>
<line x1="949" y1="813.6" x2="1152" y2="813.6" stroke="#000" stroke-width="3" />
<line x1="975" y1="647.5" x2="975" y2="808" stroke="#000" stroke-width="2.6" />
<polygon points="975,644.5 965.4,672.5 984.6,672.5" fill="#000"/>
<polygon points="975,811 965.4,783 984.6,783" fill="#000"/>
<line x1="954" y1="644" x2="996" y2="644" stroke="#000" stroke-width="3" />
<text transform="translate(1001,773.44) rotate(-90)" x="0" y="0" font-size="26" font-weight="normal" fill="#111" textLength="95.32" lengthAdjust="spacingAndGlyphs">227mm</text>
<line x1="1018.7" y1="451.5" x2="1018.7" y2="808" stroke="#000" stroke-width="2.6" />
<polygon points="1018.7,448.5 1008.4,475.5 1029,475.5" fill="#000"/>
<polygon points="1018.7,811 1008.4,784 1029,784" fill="#000"/>
<line x1="933.3" y1="447.7" x2="948" y2="447.7" stroke="#000" stroke-width="3" />
<line x1="953.3" y1="447.7" x2="978.7" y2="447.7" stroke="#000" stroke-width="3" />
<line x1="986.7" y1="447.7" x2="998.7" y2="447.7" stroke="#000" stroke-width="3" />
<line x1="1005.3" y1="447.7" x2="1029.3" y2="447.7" stroke="#000" stroke-width="3" />
<text transform="translate(1044.7,670.69) rotate(-90)" x="0" y="0" font-size="26" font-weight="normal" fill="#111" textLength="99.96" lengthAdjust="spacingAndGlyphs">489mm</text>
<line x1="1060" y1="377" x2="1060" y2="808" stroke="#000" stroke-width="2.6" />
<polygon points="1060,374 1049.7,400 1070.3,400" fill="#000"/>
<polygon points="1060,811 1049.7,785 1070.3,785" fill="#000"/>
<line x1="932" y1="373.6" x2="1060" y2="373.6" stroke="#000" stroke-width="2.6" />
<text transform="translate(1085.3,639.18) rotate(-90)" x="0" y="0" font-size="26" font-weight="normal" fill="#111" textLength="98.43" lengthAdjust="spacingAndGlyphs">592mm</text>
<line x1="1101.5" y1="354.8" x2="1101.5" y2="808" stroke="#000" stroke-width="2.6" />
<polygon points="1101.5,351.8 1091.2,380.3 1111.8,380.3" fill="#000"/>
<polygon points="1101.5,811 1091.2,782.5 1111.8,782.5" fill="#000"/>
<line x1="920" y1="351.3" x2="1104" y2="351.3" stroke="#000" stroke-width="2.6" />
<text transform="translate(1125.3,651.46) rotate(-90)" x="0" y="0" font-size="26" font-weight="normal" fill="#111" textLength="96.06" lengthAdjust="spacingAndGlyphs">622mm</text>
<line x1="1140" y1="315.8" x2="1140" y2="808" stroke="#000" stroke-width="2.6" />
<polygon points="1140,312.8 1129.6,338.8 1150.4,338.8" fill="#000"/>
<polygon points="1140,811 1129.6,785 1150.4,785" fill="#000"/>
<line x1="968.8" y1="312.4" x2="1152.5" y2="312.4" stroke="#000" stroke-width="2.6" />
<text transform="translate(1171.3,639.31) rotate(-90)" x="0" y="0" font-size="26" font-weight="normal" fill="#111" textLength="86.32" lengthAdjust="spacingAndGlyphs">671mm</text>
</svg>
</body></html>
